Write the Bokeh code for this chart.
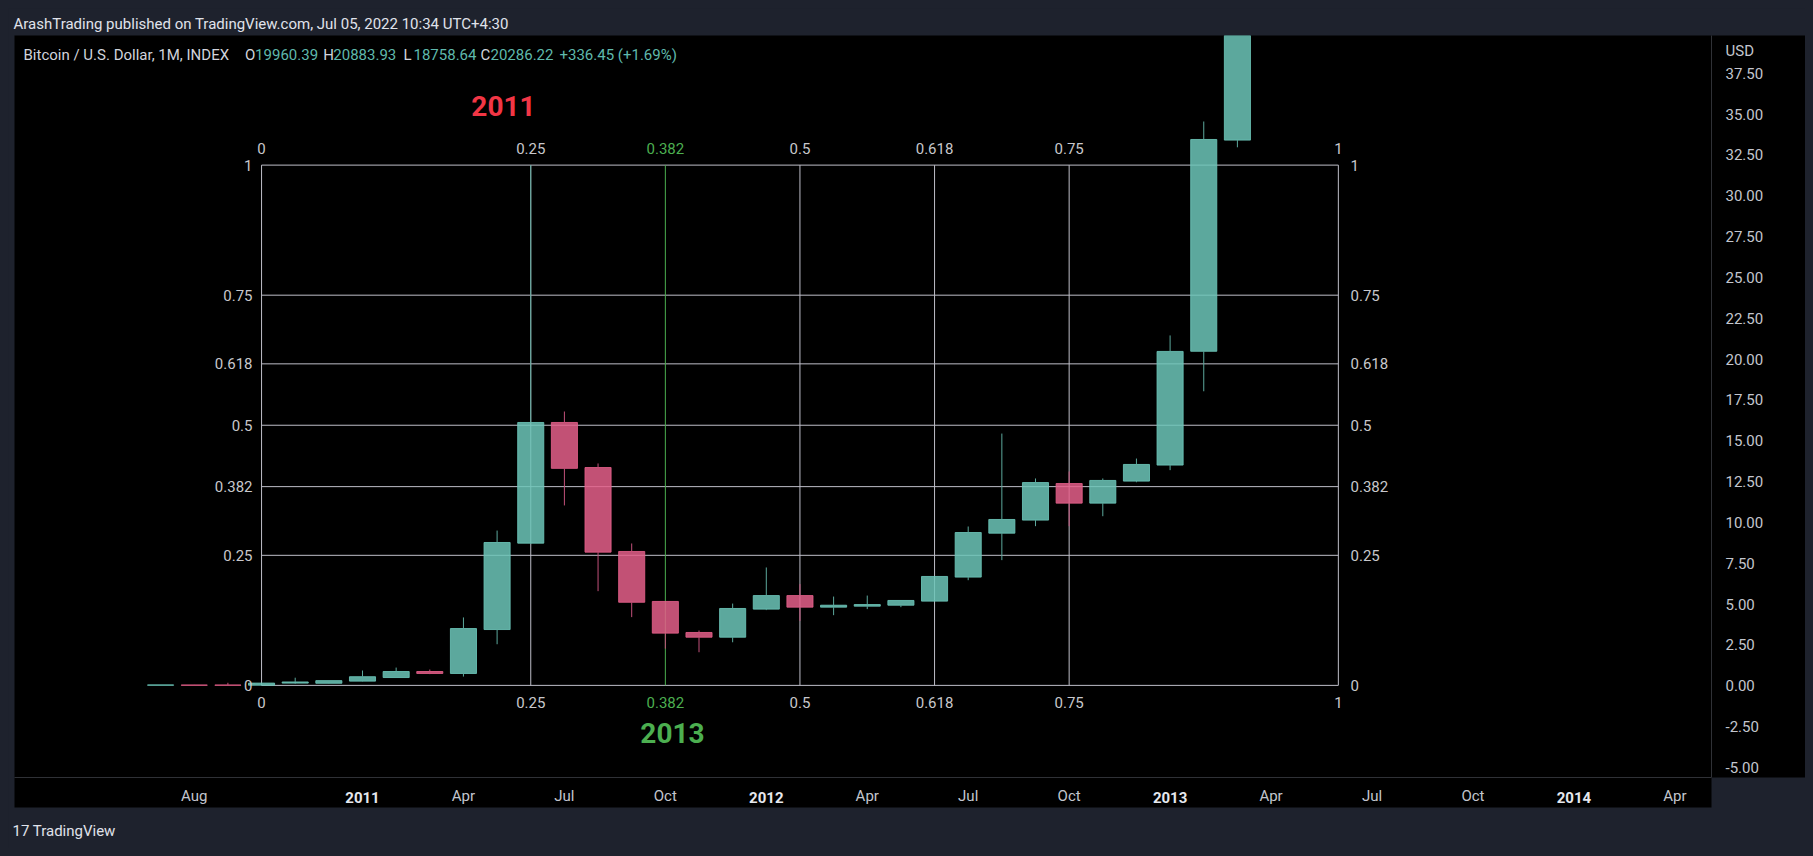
from bokeh.plotting import figure
from bokeh.models import (Range1d, FixedTicker, PrintfTickFormatter, Label, ColumnDataSource,
                          LinearAxis, Title)
from bokeh.embed import file_html
from bokeh.resources import INLINE
from bokeh.core.properties import value

# ---------------- data (monthly BTCUSD INDEX candles) ----------------
months = ["2010-07", "2010-08", "2010-09", "2010-10", "2010-11", "2010-12",
          "2011-01", "2011-02", "2011-03", "2011-04", "2011-05", "2011-06",
          "2011-07", "2011-08", "2011-09", "2011-10", "2011-11", "2011-12",
          "2012-01", "2012-02", "2012-03", "2012-04", "2012-05", "2012-06",
          "2012-07", "2012-08", "2012-09", "2012-10", "2012-11", "2012-12",
          "2013-01", "2013-02", "2013-03"]
opens = [0.06, 0.07, 0.07, 0.06, 0.19, 0.18, 0.31, 0.53, 0.90, 0.78, 3.47, 8.76,
         16.15, 13.39, 8.25, 5.19, 3.29, 3.00, 4.72, 5.55, 4.84, 4.90, 4.96, 5.21,
         6.68, 9.37, 10.17, 12.41, 11.21, 12.56, 13.54, 20.51, 33.44]
highs = [0.08, 0.08, 0.21, 0.20, 0.52, 0.35, 0.96, 1.14, 1.02, 4.21, 9.53, 31.91,
         16.82, 13.64, 8.74, 5.19, 3.41, 5.06, 7.27, 6.25, 5.49, 5.55, 5.25, 6.72,
         9.78, 15.47, 12.72, 13.15, 12.72, 13.94, 21.48, 34.58, 95.70]
lows = [0.05, 0.05, 0.05, 0.05, 0.15, 0.16, 0.29, 0.52, 0.74, 0.59, 2.57, 8.70,
        11.07, 5.82, 4.23, 2.30, 2.08, 2.69, 4.66, 4.00, 4.35, 4.72, 4.84, 5.21,
        6.49, 7.72, 9.80, 9.80, 10.41, 12.49, 13.23, 18.06, 33.00]
closes = [0.08, 0.06, 0.06, 0.19, 0.26, 0.34, 0.58, 0.90, 0.78, 3.53, 8.80, 16.15,
          13.34, 8.21, 5.14, 3.25, 3.00, 4.76, 5.55, 4.84, 4.96, 5.00, 5.25, 6.72,
          9.41, 10.21, 12.47, 11.21, 12.60, 13.58, 20.50, 33.48, 93.03]

price_ticks = [-5.0, -2.5, 0.0, 2.5, 5.0, 7.5, 10.0, 12.5, 15.0, 17.5, 20.0,
               22.5, 25.0, 27.5, 30.0, 32.5, 35.0, 37.5]
price_unit_tick = 38.875
price_unit_label = "USD"
date_tick_months = ["2010-08", "2011-01", "2011-04", "2011-07", "2011-10",
                    "2012-01", "2012-04", "2012-07", "2012-10", "2013-01",
                    "2013-04", "2013-07", "2013-10", "2014-01", "2014-04"]
date_tick_labels = ["Aug", "2011", "Apr", "Jul", "Oct", "2012", "Apr", "Jul",
                    "Oct", "2013", "Apr", "Jul", "Oct", "2014", "Apr"]

fib_levels = [0, 0.25, 0.382, 0.5, 0.618, 0.75, 1]
fib_level_labels = ["0", "0.25", "0.382", "0.5", "0.618", "0.75", "1"]
fib_price_low, fib_price_high = 0.05, 31.91
fib_month_start, fib_month_end = "2010-10", "2013-06"

legend_title = "Bitcoin / U.S. Dollar, 1M, INDEX"
legend_keys = ["O", "H", "L", "C"]
legend_values = ["19960.39", "20883.93", "18758.64", "20286.22"]
legend_change = "+336.45 (+1.69%)"
header_text = "ArashTrading published on TradingView.com, Jul 05, 2022 10:34 UTC+4:30"
footer_text = "17 TradingView"

# ---------------- geometry (page pixels -> data) ----------------
FIG_W, FIG_H = 1797, 840
FRAME_L, FRAME_R, FRAME_T, FRAME_B = 14, 1711, 35, 777
X_REF_PX, PX_PER_MONTH = 362.0, 33.65
Y_ZERO_PX, PX_PER_USD = 685.7, 16.33


def fx(px):
    return (px - X_REF_PX) / PX_PER_MONTH


def fy(py):
    return (Y_ZERO_PX - py) / PX_PER_USD


def month_index(s):
    y, m = s.split("-")
    return (int(y) - 2011) * 12 + int(m) - 1


FONT = "Roboto"
BG = "#1e222d"
UP_BODY, DOWN_BODY = "#6cc6b8", "#e45f8a"
UP_WICK, DOWN_WICK = "#5ca89c", "#c2517a"
FIB_COLOR, FIB_GREEN = "#bebec8", "#4caf50"
AXIS_TEXT = "#c3c6ce"

p = figure(width=FIG_W, height=FIG_H,
           x_range=Range1d(fx(FRAME_L), fx(FRAME_R)),
           y_range=Range1d(fy(FRAME_B), fy(FRAME_T)),
           y_axis_location="right", output_backend="svg",
           toolbar_location=None, tools="",
           min_border_left=FRAME_L - 8, min_border_right=FIG_W - (FRAME_R - 8),
           min_border_top=FRAME_T - 8, min_border_bottom=FIG_H - (FRAME_B - 8),
           background_fill_color="#000000", border_fill_color=BG)
p.outline_line_color = None
p.grid.visible = False

# header as title
p.title = Title(text=header_text, align="left", offset=-1, standoff=6,
                text_font=FONT, text_font_size="15px", text_font_style="normal",
                text_color="#e0e3eb")

# ---------------- axes ----------------
ya = p.yaxis[0]
ya.ticker = FixedTicker(ticks=price_ticks + [price_unit_tick])
ya.formatter = PrintfTickFormatter(format="%.2f")
ya.major_label_overrides = {price_unit_tick: price_unit_label}
ya.major_tick_out = 0
ya.major_tick_in = 0
ya.minor_tick_out = 0
ya.minor_tick_in = 0
ya.major_label_standoff = 14
ya.axis_line_color = "#2f3136"
ya.major_label_text_color = AXIS_TEXT
ya.major_label_text_font = FONT
ya.major_label_text_font_size = "15px"
ya.background_fill_color = "#000000"
ya.axis_label = " "
ya.axis_label_text_font_size = "15px"
ya.axis_label_standoff = 19

date_ticks = [month_index(s) for s in date_tick_months]
is_year = [lab.isdigit() for lab in date_tick_labels]
xa = p.xaxis[0]
xa.ticker = FixedTicker(ticks=date_ticks)
xa.major_label_overrides = {t: ("" if y else lab)
                            for t, lab, y in zip(date_ticks, date_tick_labels, is_year)}
xa.major_tick_out = 0
xa.major_tick_in = 0
xa.minor_tick_out = 0
xa.minor_tick_in = 0
xa.major_label_standoff = 9
xa.axis_line_color = "#2f3136"
xa.major_label_text_color = AXIS_TEXT
xa.major_label_text_font = FONT
xa.major_label_text_font_size = "15px"
xa.background_fill_color = "#000000"

# bold year labels overlaid on the time axis
year_ticks = [t for t, y in zip(date_ticks, is_year) if y]
year_axis = LinearAxis(ticker=FixedTicker(ticks=year_ticks),
                       major_label_overrides={t: lab for t, lab, y in
                                              zip(date_ticks, date_tick_labels, is_year) if y},
                       major_tick_out=0, major_tick_in=0, minor_tick_out=0, minor_tick_in=0,
                       axis_line_color=None, major_label_standoff=-16,
                       major_label_text_color="#e6e8ee", major_label_text_font=FONT,
                       major_label_text_font_size="15px", major_label_text_font_style="bold",
                       axis_label=" ", axis_label_text_font_size="4px", axis_label_standoff=0)
p.add_layout(year_axis, "below")

p.add_layout(Title(text=footer_text, align="left", offset=-2, standoff=12,
                   text_font=FONT, text_font_size="15px", text_font_style="normal",
                   text_color="#e0e3eb"), "below")

# ---------------- fib grid ----------------
t0, t1 = month_index(fib_month_start), month_index(fib_month_end)
fib_prices = [fib_price_low + L * (fib_price_high - fib_price_low) for L in fib_levels]
fib_times = [round(t0 + L * (t1 - t0)) for L in fib_levels]
v_colors = [FIB_GREEN if lab == "0.382" else FIB_COLOR for lab in fib_level_labels]
lab_colors = [FIB_GREEN if lab == "0.382" else "#c8c8cc" for lab in fib_level_labels]

p.segment(x0=[t0] * len(fib_prices), x1=[t1] * len(fib_prices), y0=fib_prices, y1=fib_prices,
          line_color=FIB_COLOR, line_width=1)
p.segment(x0=fib_times, x1=fib_times, y0=[fib_price_low] * len(fib_times),
          y1=[fib_price_high] * len(fib_times), line_color=v_colors, line_width=1)

# ---------------- candles ----------------
mi = [month_index(s) for s in months]
up = [c >= o for o, c in zip(opens, closes)]
src = ColumnDataSource(dict(
    x=mi, top=[max(o, c) for o, c in zip(opens, closes)],
    bot=[min(o, c) for o, c in zip(opens, closes)],
    hi=highs, lo=lows,
    body=[UP_BODY if u else DOWN_BODY for u in up],
    wick=[UP_WICK if u else DOWN_WICK for u in up]))
p.vbar(x="x", width=0.775, top="top", bottom="bot", source=src,
       fill_color="body", line_color="body", fill_alpha=0.85, line_alpha=0.85, line_width=1)
p.segment(x0="x", x1="x", y0="top", y1="hi", source=src, line_color="wick", line_width=1)
p.segment(x0="x", x1="x", y0="lo", y1="bot", source=src, line_color="wick", line_width=1)

# ---------------- fib labels ----------------
n = len(fib_levels)
p.text(x=fib_times, y=[fy(148)] * n, text=fib_level_labels, text_color=lab_colors,
       text_align="center", text_baseline="middle", text_font=value(FONT), text_font_size="15px")
p.text(x=fib_times, y=[fy(702)] * n, text=fib_level_labels, text_color=lab_colors,
       text_align="center", text_baseline="middle", text_font=value(FONT), text_font_size="15px")
p.text(x=[fx(252)] * n, y=fib_prices, text=fib_level_labels, text_color="#c8c8cc",
       text_align="right", text_baseline="middle", text_font=value(FONT), text_font_size="15px")
p.text(x=[fx(1350)] * n, y=fib_prices, text=fib_level_labels, text_color="#c8c8cc",
       text_align="left", text_baseline="middle", text_font=value(FONT), text_font_size="15px")

# year annotations
p.text(x=[fx(503)], y=[fy(105)], text=["2011"], text_color="#f23645", text_align="center",
       text_baseline="middle", text_font=value(FONT), text_font_size="28px", text_font_style="bold")
p.text(x=[fx(672)], y=[fy(732)], text=["2013"], text_color="#4caf50", text_align="center",
       text_baseline="middle", text_font=value(FONT), text_font_size="28px", text_font_style="bold")

# ---------------- legend line ----------------
def add_label(px, py, text, color, size="15px", style="normal"):
    p.add_layout(Label(x=fx(px), y=fy(py), text=text, text_color=color, text_font=FONT,
                       text_font_size=size, text_font_style=style,
                       text_align="left", text_baseline="middle"))


TEAL_TXT = "#5fb9ac"
add_label(23, 54, legend_title, "#d1d4dc")
key_px = [244.6, 322.8, 403, 480]
for kx, k, v in zip(key_px, legend_keys, legend_values):
    add_label(kx, 54, k, "#d1d4dc")
    add_label(kx + 10, 54, v, TEAL_TXT)
add_label(559, 54, legend_change, TEAL_TXT)

html = file_html(p, INLINE, title="BTCUSD 1M")
i = html.rfind("<body")
html = html[:i] + '<body style="background-color:%s;margin:8px;"' % BG + html[i + 5:]
open("out.html", "w").write(html)
